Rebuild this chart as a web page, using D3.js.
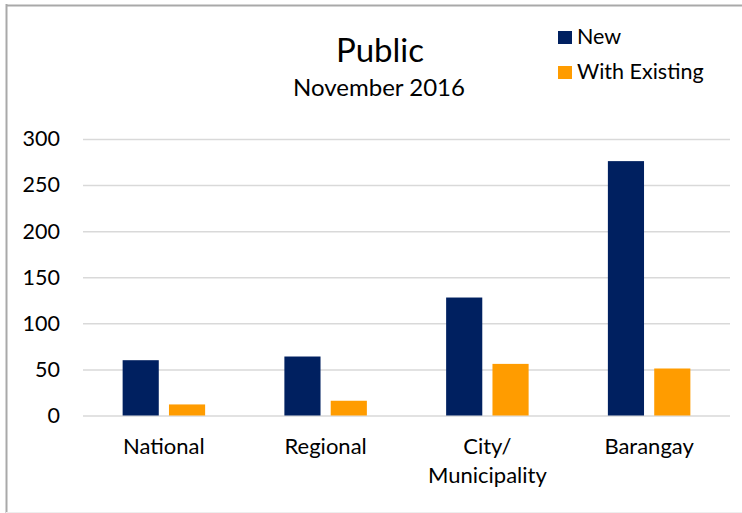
<!DOCTYPE html>
<html>
<head>
<meta charset="utf-8">
<script src="https://cdn.jsdelivr.net/npm/d3@7"></script>
<style>
  body { margin: 0; background: #fff; }
  svg { display: block; font-family: Lato, 'Open Sans', sans-serif; }
</style>
</head>
<body>
<svg id="chart" width="742" height="513"></svg>
<script>
const categories = ['National', 'Regional', 'City/ Municipality', 'Barangay'];
const seriesNames = ['New', 'With Existing'];
const newValues = [60, 64, 128, 276];
const existingValues = [12, 16, 56, 51];
const yTicks = [0, 50, 100, 150, 200, 250, 300];

const colors = {
  'New': '#002060',
  'With Existing': '#FF9C00',
};

const svg = d3.select('#chart');
const width = 742, height = 513;
const margin = { top: 139, right: 12, bottom: 97, left: 83 };

// frame like the spreadsheet chart border
svg.append('line').attr('x1', 6.5).attr('x2', 6.5).attr('y1', 4).attr('y2', height)
  .attr('stroke', '#A9A9A9').attr('stroke-width', 2);
svg.append('line').attr('x1', 6).attr('x2', width).attr('y1', 5.5).attr('y2', 5.5)
  .attr('stroke', '#A9A9A9').attr('stroke-width', 2);
svg.append('line').attr('x1', 6).attr('x2', width).attr('y1', 512.5).attr('y2', 512.5)
  .attr('stroke', '#EEEEEE').attr('stroke-width', 1);

const data = categories.map((c, i) => ({
  name: c,
  'New': newValues[i],
  'With Existing': existingValues[i],
}));

const x0 = d3.scaleBand()
  .domain(categories)
  .range([margin.left, width - margin.right])
  .paddingInner(0.49)
  .paddingOuter(0.245);

const x1 = d3.scaleBand()
  .domain(seriesNames)
  .range([0, x0.bandwidth()])
  .paddingInner(0.22);

const y = d3.scaleLinear()
  .domain([0, 300])
  .range([height - margin.bottom - 0.5, margin.top]);

// gridlines + y labels
const yAxis = (g) =>
  g
    .attr('transform', `translate(${margin.left},0)`)
    .call(d3.axisLeft(y).tickValues(yTicks).tickSize(-(width - margin.right - margin.left)).tickPadding(23))
    .call((g) => g.select('.domain').remove())
    .call((g) => g.selectAll('.tick line').attr('stroke', '#D9D9D9').attr('stroke-width', 1.5))
    .call((g) =>
      g.selectAll('.tick text')
        .attr('fill', '#000')
        .attr('font-size', '21.5px')
        .attr('font-family', 'Lato, sans-serif')
    );

svg.append('g').call(yAxis);

// bars
svg.append('g')
  .selectAll('g')
  .data(data)
  .join('g')
  .attr('transform', (d) => `translate(${x0(d.name)},0)`)
  .selectAll('rect')
  .data((d) => seriesNames.map((k) => ({ key: k, value: d[k] })))
  .join('rect')
  .attr('x', (d) => x1(d.key))
  .attr('y', (d) => y(d.value))
  .attr('width', x1.bandwidth())
  .attr('height', (d) => y(0) - y(d.value))
  .attr('fill', (d) => colors[d.key]);

// x labels (wrap on space after slash)
const xLabels = svg.append('g')
  .selectAll('text')
  .data(categories)
  .join('text')
  .attr('x', (d) => x0(d) + x0.bandwidth() / 2)
  .attr('y', 454)
  .attr('text-anchor', 'middle')
  .attr('font-size', '22px')
  .attr('fill', '#000');

xLabels.each(function (d) {
  const parts = d.split(' ');
  const t = d3.select(this);
  parts.forEach((p, i) => {
    t.append('tspan')
      .attr('x', x0(d) + x0.bandwidth() / 2)
      .attr('dy', i === 0 ? 0 : 29)
      .text(p);
  });
});

// titles
svg.append('text')
  .attr('x', 380).attr('y', 62)
  .attr('text-anchor', 'middle')
  .attr('font-size', '33px')
  .text('Public');

svg.append('text')
  .attr('x', 379).attr('y', 96)
  .attr('text-anchor', 'middle')
  .attr('font-size', '24px')
  .text('November 2016');

// legend
const legend = svg.append('g')
  .selectAll('g')
  .data(seriesNames)
  .join('g')
  .attr('transform', (d, i) => `translate(558,${31 + i * 35})`);

legend.append('rect')
  .attr('width', 14).attr('height', 13)
  .attr('fill', (d) => colors[d]);

legend.append('text')
  .attr('x', 19).attr('y', 13)
  .attr('font-size', '21.5px')
  .text((d) => d);
</script>
</body>
</html>
